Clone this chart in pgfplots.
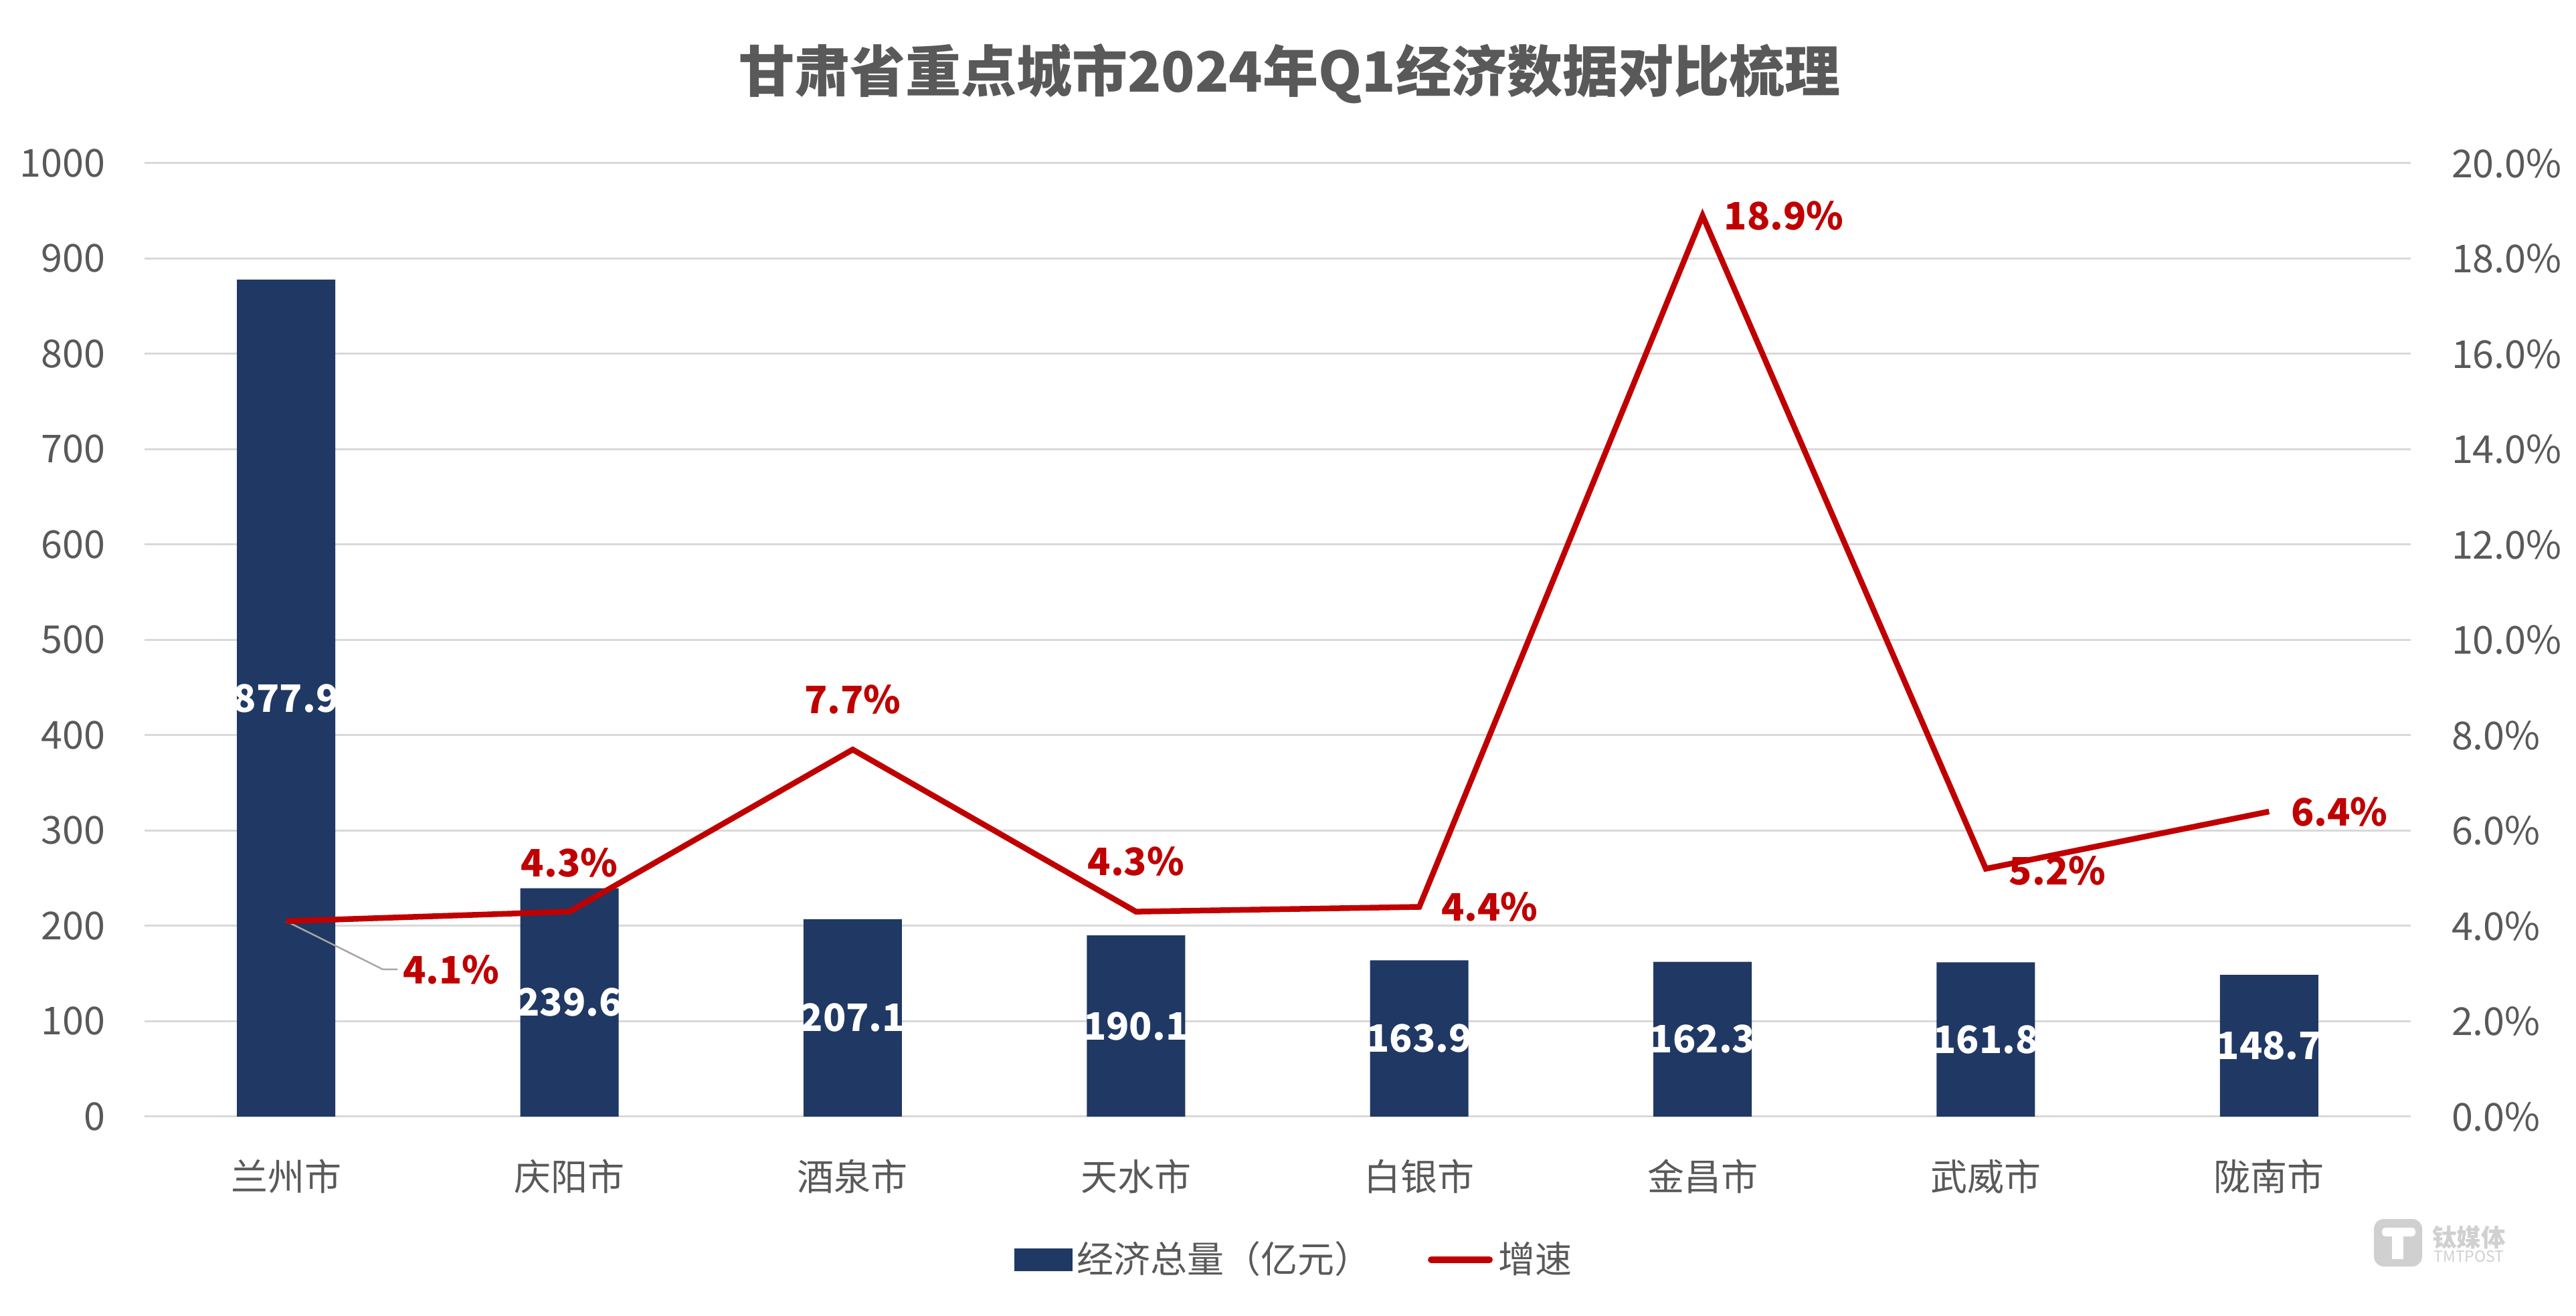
\documentclass[border=0pt]{standalone}
\usepackage{fontspec}
\setmainfont{Noto Sans CJK SC}
\usepackage{pgfplots}
\pgfplotsset{compat=1.18}
\usepackage{pgfplotstable}
\pgfplotsset{/pgf/number format/assume math mode=true}

\definecolor{barblue}{RGB}{32,56,100}
\definecolor{linered}{RGB}{192,0,0}
\definecolor{txtgray}{RGB}{89,89,89}
\definecolor{gridgray}{RGB}{217,217,217}
\definecolor{wmgray}{RGB}{208,208,208}

% GDP, 100 million yuan
\pgfplotstableread{
x gdp
0 877.9
1 239.6
2 207.1
3 190.1
4 163.9
5 162.3
6 161.8
7 148.7
}\gdptable

% growth rate (%), with label offsets in pt
\pgfplotstableread{
x rate dx dy
0 4.1 49.3 -14.6
1 4.3 0 14.7
2 7.7 0 15
3 4.3 0 15
4 4.4 21 0
5 18.9 24.3 0
6 5.2 21.4 -0.5
7 6.4 21 0
}\ratetable

\pgfplotsset{
  common/.style={
    at={(43.2pt,59.4pt)}, anchor=south west,
    scale only axis, width=677.4pt, height=285pt,
    xmin=-0.5, xmax=7.5,
    axis line style={draw=none}, tick style={draw=none},
    tick label style={text=txtgray, inner sep=0pt},
  }
}

\begin{document}
\begin{tikzpicture}
\useasboundingbox (0,0) rectangle (770pt,393.2pt);

\node[font=\fontsize{16.6}{20}\selectfont\bfseries, text=txtgray] at (385.4pt,371.2pt)
  {甘肃省重点城市2024年Q1经济数据对比梳理};

\begin{axis}[common,
  ymin=0, ymax=1000,
  xtick={0,...,7},
  xticklabels={兰州市,庆阳市,酒泉市,天水市,白银市,金昌市,武威市,陇南市},
  ytick={0,100,...,1000},
  yticklabel style={/pgf/number format/1000 sep={}},
  ymajorgrids, grid style={gridgray, line width=0.6pt},
  xticklabel style={font=\fontsize{11}{13}\selectfont, anchor=center, yshift=-17.8pt},
  yticklabel style={font=\fontsize{11.5}{13}\selectfont, anchor=east, xshift=-11.6pt},
]
\addplot[ybar, bar width=29.4pt, fill=barblue, draw=none,
  point meta=y,
  visualization depends on={y \as \yval},
  nodes near coords={\pgfmathprintnumber[fixed,fixed zerofill,precision=1]{\pgfplotspointmeta}},
  every node near coord/.append style={anchor=center, text=white,
    font=\fontsize{11.3}{13}\selectfont\bfseries, yshift={-0.1425*\yval}}]
  table[x=x, y=gdp]{\gdptable};
\end{axis}

\begin{axis}[common,
  ymin=0, ymax=20,
  axis x line=none, axis y line*=right,
  ytick={0,2,...,20},
  yticklabel={\pgfmathprintnumber[fixed,fixed zerofill,precision=1]{\tick}\%},
  yticklabel style={font=\fontsize{11.5}{13}\selectfont, anchor=west, xshift=12pt},
  legend style={at={(0.5068,-0.150)}, anchor=center, draw=none, fill=none,
    legend columns=-1, font=\fontsize{11}{13}\selectfont, text=txtgray,
    nodes={inner sep=0pt}},
]
\addlegendimage{legend image code/.code={\fill[barblue] (0pt,-3.2pt) rectangle (17pt,3.2pt);}}
\addlegendentry{\kern1.2pt 经济总量（亿元）\kern17pt}
\addlegendimage{legend image code/.code={\draw[linered, line width=2pt, line cap=round] (1pt,0pt) -- (18.4pt,0pt);}}
\addlegendentry{\kern1.6pt 增速}

\draw[gray!70, line width=0.5pt] (axis cs:0,4.1) -- (axis cs:0.341,3.09) -- (axis cs:0.393,3.09);
\addplot[linered, line width=1.7pt, mark=none, forget plot,
  point meta=y,
  visualization depends on={\thisrow{dx} \as \dx},
  visualization depends on={\thisrow{dy} \as \dy},
  nodes near coords={\pgfmathprintnumber[fixed,fixed zerofill,precision=1]{\pgfplotspointmeta}\%},
  every node near coord/.append style={anchor=center, text=linered,
    font=\fontsize{11.3}{13}\selectfont\bfseries, xshift=\dx, yshift=\dy}]
  table[x=x, y=rate]{\ratetable};
\end{axis}

% watermark
\fill[wmgray, rounded corners=3pt] (709.6pt,14.6pt) rectangle (724pt,28.8pt);
\fill[white, rounded corners=1pt] (712pt,23.6pt) rectangle (722pt,26.2pt);
\fill[white] (715pt,16.8pt) rectangle (718.4pt,24pt);
\node[text=wmgray, font=\fontsize{7.3}{8}\selectfont\bfseries] at (738pt,23.2pt) {钛媒体};
\node[text=wmgray, font=\fontsize{4.6}{5}\selectfont] at (738pt,17.6pt) {TMTPOST};
\end{tikzpicture}
\end{document}
